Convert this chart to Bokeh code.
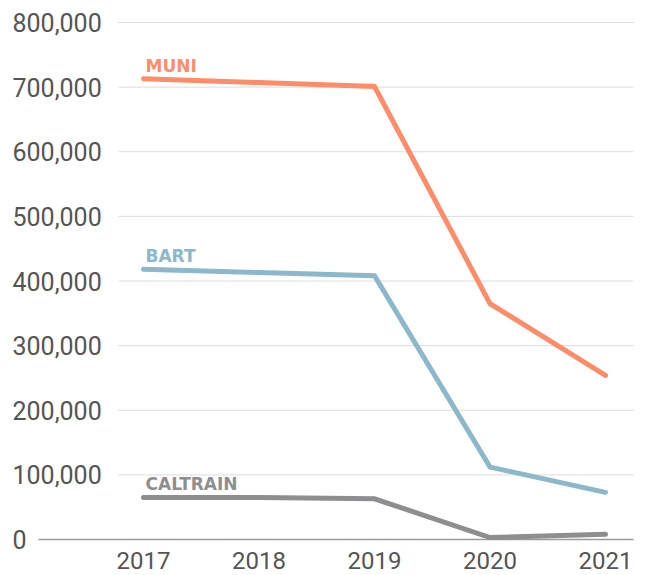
from bokeh.plotting import figure
from bokeh.models import Range1d
from bokeh.core.properties import value
from bokeh.embed import file_html
from bokeh.resources import INLINE

# ---- data ----
years = [2017, 2018, 2019, 2020, 2021]
year_labels = ["2017", "2018", "2019", "2020", "2021"]
muni = [713000, 707000, 701000, 365000, 254000]
bart = [418000, 413000, 408000, 112000, 73000]
caltrain = [65000, 65000, 63000, 3000, 8000]
series_names = ["MUNI", "BART", "CALTRAIN"]
y_ticks = [0, 100000, 200000, 300000, 400000, 500000, 600000, 700000, 800000]
y_tick_labels = ["0", "100,000", "200,000", "300,000", "400,000",
                 "500,000", "600,000", "700,000", "800,000"]

# ---- layout helpers (picture pixels -> data units) ----
W, H = 647, 575
PX_PER_YEAR = 115.5
PX_PER_UNIT = 517 / 800000


def dx(page_x):
    return 2017 + (page_x - 143) / PX_PER_YEAR


def dy(page_y):
    return (539 - page_y) / PX_PER_UNIT


p = figure(width=W, height=H, output_backend="svg", toolbar_location=None,
           x_range=Range1d(dx(0), dx(W)), y_range=Range1d(dy(H), dy(0)),
           min_border=0, min_border_left=0, min_border_right=0,
           min_border_top=0, min_border_bottom=0)
p.axis.visible = False
p.grid.visible = False
p.outline_line_color = None
p.background_fill_color = "white"
p.border_fill_color = "white"

# gridlines
grid_vals = [t for t in y_ticks if t != 0]
p.segment(x0=[dx(118)] * len(grid_vals), x1=[dx(633)] * len(grid_vals),
          y0=grid_vals, y1=grid_vals, line_color="#dddddd", line_width=1)
p.segment(x0=[dx(38)], x1=[dx(633)], y0=[0], y1=[0],
          line_color="#9a9a9a", line_width=1.3)

# y tick labels
p.text(x=[dx(12)] * len(y_ticks), y=y_ticks, text=y_tick_labels,
       text_align="left", text_baseline="middle",
       text_font=value("Roboto"), text_font_size="25px", text_color="#555555")

# x tick labels
p.text(x=years, y=[dy(560)] * len(years), text=year_labels,
       text_align="center", text_baseline="middle",
       text_font=value("Roboto"), text_font_size="24px", text_color="#555555")

colors = ["#ff8c69", "#8bb8ca", "#8e8e91"]
label_gap = 13 / PX_PER_UNIT
for vals, name, c in zip([muni, bart, caltrain], series_names, colors):
    p.line(years, vals, line_color=c, line_width=5, line_cap="round", line_join="miter")
    p.text(x=[dx(145)], y=[vals[0] + label_gap], text=[name],
           text_align="left", text_baseline="middle",
           text_font=value("DejaVu Sans"), text_font_style="bold",
           text_font_size="17px", text_color=c)

open("out.html", "w").write(file_html(p, INLINE))
